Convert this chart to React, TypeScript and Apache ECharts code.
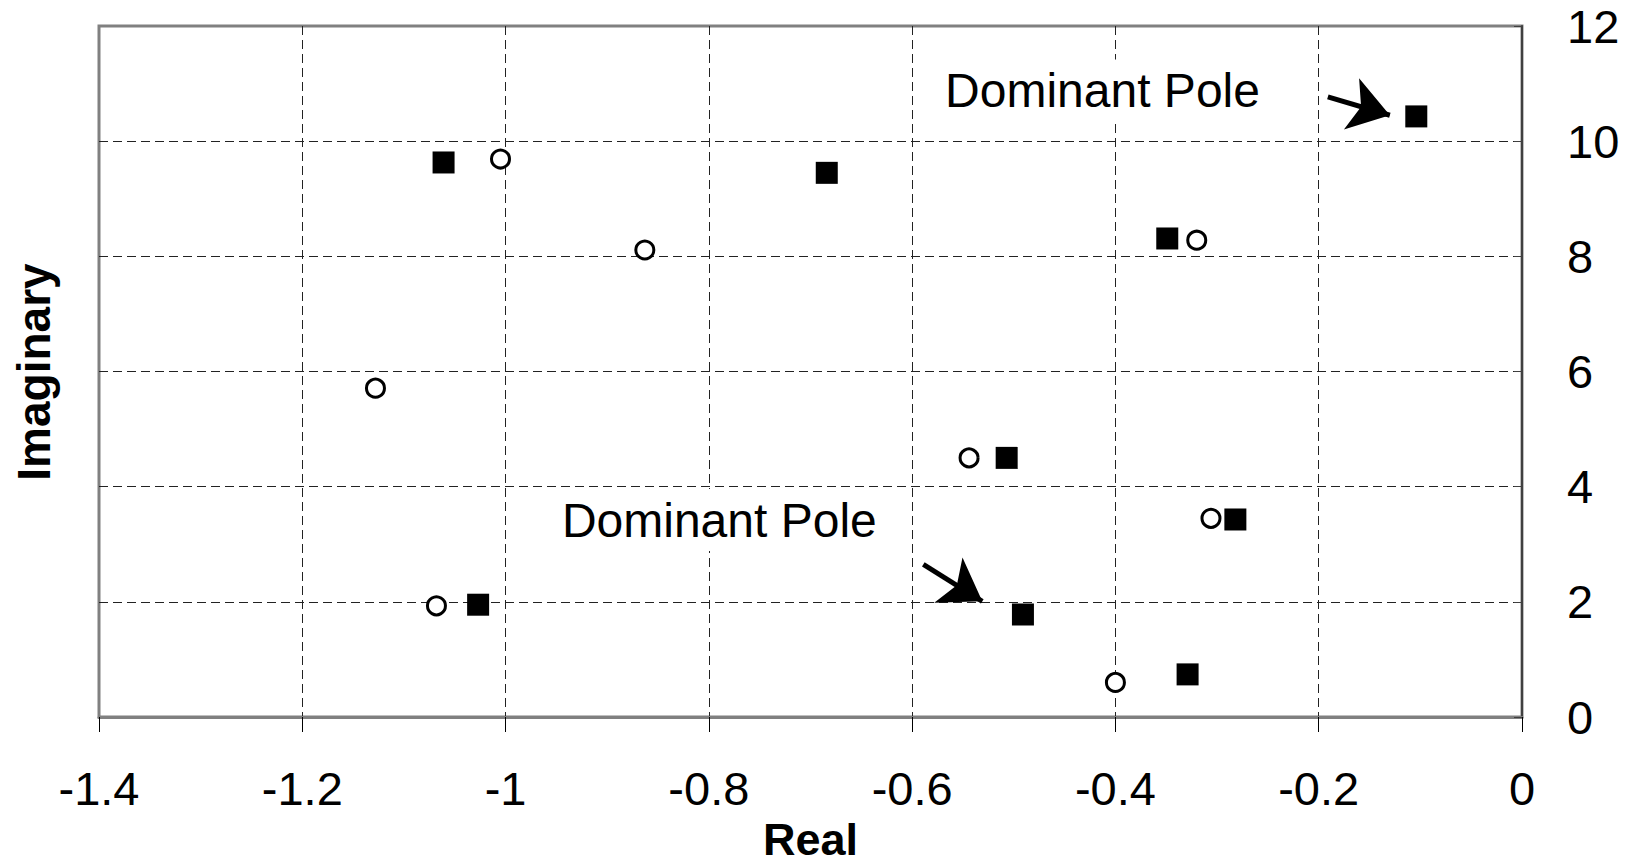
import React, { useEffect, useRef } from "react";
import * as echarts from "echarts";

// Pole locations (real part, imaginary part)
const squareRe = [-1.061, -0.684, -0.104, -0.349, -0.507, -0.282, -1.027, -0.491, -0.329];
const squareIm = [9.63, 9.45, 10.43, 8.31, 4.5, 3.43, 1.95, 1.78, 0.74];
const circleRe = [-1.005, -0.863, -0.32, -1.128, -0.544, -0.306, -1.068, -0.4];
const circleIm = [9.69, 8.11, 8.28, 5.71, 4.5, 3.45, 1.93, 0.6];

// Axis ticks
const xTickLabels = ["-1.4", "-1.2", "-1", "-0.8", "-0.6", "-0.4", "-0.2", "0"];
const yTickLabels = ["0", "2", "4", "6", "8", "10", "12"];

// Annotations: text anchor (left edge) and arrow tail/tip
const noteText = ["Dominant Pole", "Dominant Pole"];
const noteAnchor = [
  [-0.572, 10.88],
  [-0.949, 3.42],
];
const arrowTail = [
  [-0.191, 10.77],
  [-0.589, 2.65],
];
const arrowTip = [
  [-0.13, 10.45],
  [-0.531, 2.01],
];

const FONT = "'Liberation Sans', Arial, sans-serif";

export default function App() {
  const ref = useRef<HTMLDivElement>(null);

  useEffect(() => {
    if (!ref.current) return;
    const chart = echarts.init(ref.current, null, { renderer: "svg" });
    const gridLine = { color: "#222", type: [9, 5] as number[], width: 1 };

    chart.setOption({
      animation: false,
      backgroundColor: "#ffffff",
      textStyle: { fontFamily: FONT },
      grid: {
        left: 99,
        right: 109,
        top: 26,
        bottom: 148,
        show: true,
        borderColor: "#808080",
        borderWidth: 3,
        outerBoundsMode: "none",
      },
      xAxis: {
        type: "value",
        min: -1.4,
        max: 0,
        interval: 0.2,
        name: "Real",
        nameLocation: "middle",
        nameGap: 100,
        nameTextStyle: { fontSize: 45, fontWeight: "bold", color: "#000", fontFamily: FONT },
        axisLine: { show: true, onZero: false, lineStyle: { color: "#808080", width: 3 } },
        axisTick: { show: true, inside: false, length: 15, lineStyle: { color: "#000", width: 1 } },
        axisLabel: {
          fontSize: 47,
          color: "#000",
          margin: 48,
          fontFamily: FONT,
          formatter: (v: number) => xTickLabels[Math.round((v + 1.4) / 0.2)] ?? "",
        },
        splitLine: { show: true, showMinLine: false, showMaxLine: false, lineStyle: gridLine },
      },
      yAxis: {
        type: "value",
        position: "right",
        min: 0,
        max: 12,
        interval: 2,
        axisLine: { show: true, lineStyle: { color: "#404040", width: 2 } },
        axisTick: { show: true, inside: true, length: 8, lineStyle: { color: "#404040", width: 1 } },
        axisLabel: {
          fontSize: 47,
          color: "#000",
          margin: 45,
          fontFamily: FONT,
          formatter: (v: number) => yTickLabels[Math.round(v / 2)] ?? "",
        },
        splitLine: { show: true, showMinLine: false, showMaxLine: false, lineStyle: gridLine },
      },
      graphic: [
        {
          type: "text",
          x: 34,
          y: 372,
          rotation: Math.PI / 2,
          style: {
            text: "Imaginary",
            fontSize: 46,
            fontWeight: "bold",
            fontFamily: FONT,
            fill: "#000",
            align: "center",
            verticalAlign: "middle",
          },
        },
      ],
      series: [
        {
          name: "notes",
          type: "scatter",
          silent: true,
          symbol: "circle",
          symbolSize: 1,
          itemStyle: { color: "rgba(255,255,255,0)", opacity: 1 },
          data: noteAnchor.map((p, i) => ({ value: p, name: noteText[i] })),
          labelLayout: { hideOverlap: false },
          label: {
            show: true,
            position: "right",
            distance: 0,
            formatter: (p: any) => p.name,
            fontSize: 48,
            fontFamily: FONT,
            color: "#000",
            opacity: 1,
            backgroundColor: "#ffffff",
            padding: [6, 4, 8, 4],
          },
        },
        {
          name: "arrows",
          type: "scatter",
          silent: true,
          data: [],
          markLine: {
            silent: true,
            symbol: ["none", "arrow"],
            symbolSize: 40,
            label: { show: false },
            lineStyle: { color: "#000", width: 5, type: "solid", opacity: 1 },
            itemStyle: { color: "#000" },
            data: arrowTail.map((t, i) => [{ coord: t }, { coord: arrowTip[i] }]),
          },
        },
        {
          name: "circles",
          type: "scatter",
          symbol: "circle",
          symbolSize: 18,
          itemStyle: { color: "#ffffff", borderColor: "#000", borderWidth: 3, opacity: 1 },
          data: circleRe.map((x, i) => [x, circleIm[i]]),
        },
        {
          name: "squares",
          type: "scatter",
          symbol: "rect",
          symbolSize: 22,
          itemStyle: { color: "#000", opacity: 1 },
          data: squareRe.map((x, i) => [x, squareIm[i]]),
        },
      ],
    });

    return () => chart.dispose();
  }, []);

  return (
    <div
      ref={ref}
      style={{ position: "fixed", left: 0, top: 0, width: 1631, height: 865, background: "#fff" }}
    />
  );
}
